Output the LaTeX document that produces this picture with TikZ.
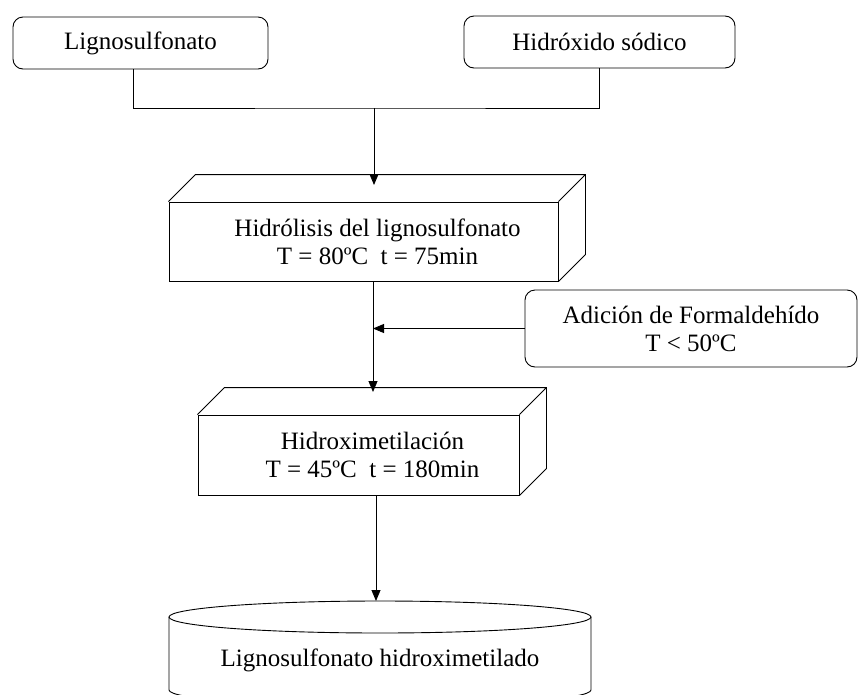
\documentclass[tikz,border=0pt]{standalone}
\usepackage{fontspec}
\setmainfont{Liberation Serif}
\usetikzlibrary{calc,arrows.meta}

\tikzset{
  caja/.style={draw, rounded corners=10pt, align=center, line width=0.9pt},
  cubo/.style={draw, line width=0.9pt, inner sep=0pt},
  flecha/.style={-{Triangle[length=11pt,width=9pt]}, line width=0.9pt},
  linea/.style={line width=0.9pt}
}
% caras superior y lateral de un bloque
\newcommand{\caras}[1]{%
  \draw[linea] (#1.north west) -- ++(27,-27) -| ($(#1.south east)+(27,-27)$) -- (#1.south east)
    (#1.north east) -- ++(27,-27);}

\begin{document}
\begin{tikzpicture}[x=1pt, y=-1pt, font=\fontsize{25}{28}\selectfont]
  \clip (0,0) rectangle (860,694);
  % entradas
  \node[caja, minimum width=255pt, minimum height=52pt] (lig) at (140.5,43) {Lignosulfonato};
  \node[caja, minimum width=271pt, minimum height=52pt] (naoh) at (599.5,42) {Hidróxido sódico};
  \coordinate (j1) at (374,108);
  \draw[linea] ([xshift=-7pt]lig.south) |- (j1) -| (naoh.south);
  % hidrolisis
  \node[cubo, minimum width=389pt, minimum height=79pt,
    label={[align=center, xshift=14pt]center:Hidrólisis del lignosulfonato\\T = 80ºC\ \ t = 75min}] (hidr) at (363.5,241.5) {};
  \caras{hidr}
  \coordinate (e1) at (374,185);
  \draw[flecha] (j1) -- (e1);
  % formaldehido
  \node[caja, minimum width=332pt, minimum height=77pt] (form) at (691,328.5) {Adición de Formaldehído\\T < 50ºC};
  % hidroximetilacion
  \node[cubo, minimum width=321pt, minimum height=80pt,
    label={[align=center, xshift=14pt]center:Hidroximetilación\\T = 45ºC\ \ t = 180min}] (hmet) at (358.5,455) {};
  \caras{hmet}
  \coordinate (e2) at (373,392);
  \draw[flecha] ($(hidr.south)+(9.5,0)$) -- (e2);
  \draw[flecha] (form.west) -- (form.west -| e2);
  % producto
  \node (prod) at (380,660) {Lignosulfonato hidroximetilado};
  \draw[linea] (380,617) ellipse [x radius=211, y radius=16];
  \draw[linea] (169,617) -- (169,690) arc [start angle=180, end angle=0, x radius=211, y radius=16] -- (591,617);
  \coordinate (e3) at (376,601);
  \draw[flecha] (hmet.south -| e3) -- (e3);
\end{tikzpicture}
\end{document}
